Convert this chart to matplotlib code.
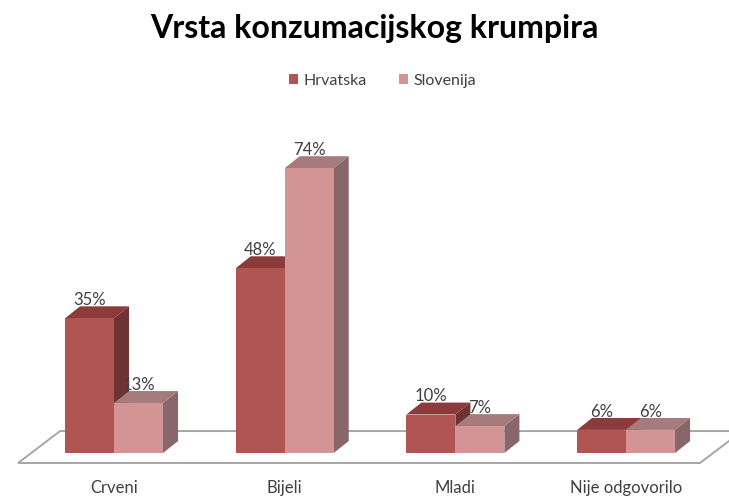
import matplotlib

matplotlib.use("Agg")

import matplotlib.pyplot as plt
from matplotlib.patches import Patch, Polygon
import numpy as np

plt.rcParams["font.family"] = ["Lato", "DejaVu Sans"]

categories = ["Crveni", "Bijeli", "Mladi", "Nije odgovorilo"]
series_names = ["Hrvatska", "Slovenija"]
hrvatska = [35, 48, 10, 6]
slovenija = [13, 74, 7, 6]

# front, top, side shades for each series
front_colors = ["#b05551", "#d39495"]
top_colors = ["#8a3b3a", "#a67b7e"]
side_colors = ["#6f3232", "#896669"]

text_color = "#404040"
bar_width = 0.287
depth_x = 0.088
depth_y = 3.1

fig = plt.figure(figsize=(7.29, 4.97), dpi=100)
ax = fig.add_axes([0, 0.0543, 1, 0.7445])
ax.set_xlim(-0.668, 3.603)
ax.set_ylim(-4.42, 91.7)
ax.axis("off")

x = np.arange(len(categories))

# floor of the 3d plot
floor_front = -2.6
floor_back = 5.7
floor = Polygon(
    [(-0.562, floor_front), (3.433, floor_front), (3.68, floor_back), (-0.316, floor_back)],
    closed=True, facecolor="white", edgecolor="#a6a6a6", linewidth=1.4, zorder=1,
)
ax.add_patch(floor)

for i, values in enumerate([hrvatska, slovenija]):
    offsets = x - bar_width / 2 + i * bar_width
    bars = ax.bar(offsets, values, width=bar_width, align="center",
                  color=front_colors[i], zorder=3 + i * 3, linewidth=0)
    for bar, value in zip(bars, values):
        left = bar.get_x()
        right = left + bar.get_width()
        top = Polygon(
            [(left, value), (right, value), (right + depth_x, value + depth_y), (left + depth_x, value + depth_y)],
            closed=True, facecolor=top_colors[i], linewidth=0, zorder=2 + i * 3,
        )
        side = Polygon(
            [(right, 0), (right + depth_x, depth_y), (right + depth_x, value + depth_y), (right, value)],
            closed=True, facecolor=side_colors[i], linewidth=0, zorder=2 + i * 3,
        )
        ax.add_patch(top)
        ax.add_patch(side)
        ax.text(left + bar.get_width() / 2, value + depth_y - 0.4, f"{value}%",
                ha="center", va="bottom", fontsize=12, color=text_color, zorder=10)

for pos, label in zip(x, categories):
    ax.text(pos, -9.2, label, ha="center", va="center", fontsize=12, color=text_color)

fig.text(0.513, 0.942, "Vrsta konzumacijskog krumpira", ha="center", va="center",
         fontsize=23, fontweight="bold", color="black")

handles = [Patch(facecolor=c, edgecolor="none") for c in front_colors]
fig.legend(handles, series_names, loc="center", bbox_to_anchor=(0.525, 0.838), ncol=2,
           frameon=False, fontsize=11.5, handlelength=0.55, handleheight=0.55,
           handletextpad=0.35, columnspacing=2.0, labelcolor=text_color)

fig.savefig("out.png", dpi=100)
